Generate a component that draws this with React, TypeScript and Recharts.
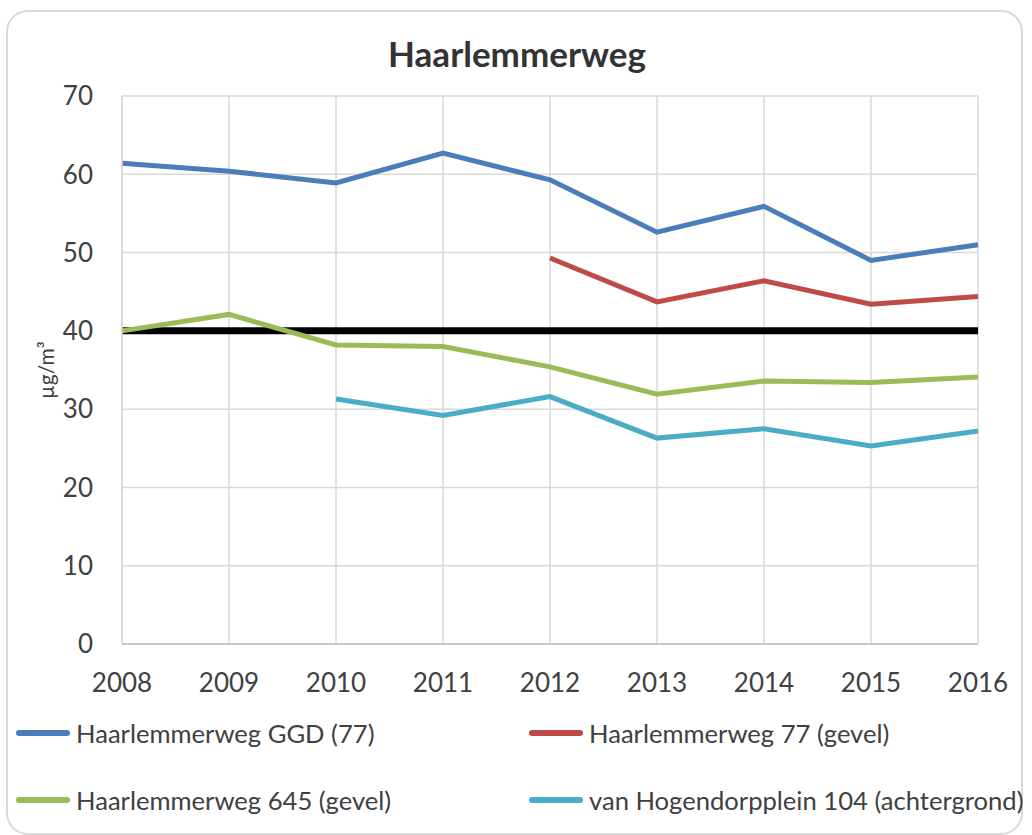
import React from "react";
import { LineChart, Line, XAxis, YAxis, CartesianGrid } from "recharts";

const years = ["2008", "2009", "2010", "2011", "2012", "2013", "2014", "2015", "2016"];
const ggd77 = [61.4, 60.4, 58.9, 62.7, 59.3, 52.6, 55.9, 49.0, 51.0];
const gevel77 = [null, null, null, null, 49.3, 43.7, 46.4, 43.4, 44.4];
const gevel645 = [40.0, 42.1, 38.2, 38.0, 35.4, 31.9, 33.6, 33.4, 34.1];
const hogendorp = [null, null, 31.3, 29.2, 31.6, 26.3, 27.5, 25.3, 27.2];
const limitValue = [40, 40, 40, 40, 40, 40, 40, 40, 40];
const yTicks = [0, 10, 20, 30, 40, 50, 60, 70];

const seriesNames = [
  "Haarlemmerweg GGD (77)",
  "Haarlemmerweg 77 (gevel)",
  "Haarlemmerweg 645 (gevel)",
  "van Hogendorpplein 104 (achtergrond)",
];
const seriesKeys = ["ggd77", "gevel77", "gevel645", "hogendorp"];
const seriesColors = ["#4A7EBB", "#BE4B48", "#9BBB59", "#4BACC6"];

const data = years.map((y, i) => ({
  year: y,
  ggd77: ggd77[i],
  gevel77: gevel77[i],
  gevel645: gevel645[i],
  hogendorp: hogendorp[i],
  limit: limitValue[i],
}));

const FONT = "Lato, 'Open Sans', sans-serif";
const TEXT = "#404040";

const legendPos = [
  { left: 16, top: 733 },
  { left: 529, top: 733 },
  { left: 16, top: 800 },
  { left: 529, top: 800 },
];

export default function App() {
  return (
    <div style={{ position: "absolute", left: 0, top: 0, width: 1032, height: 835, background: "#fff", fontFamily: FONT }}>
      <div
        style={{
          position: "absolute",
          left: 6,
          top: 10,
          width: 1013,
          height: 821,
          border: "2px solid #d9d9d9",
          borderRadius: 22,
        }}
      />
      <div
        style={{
          position: "absolute",
          left: 0,
          width: 1034,
          top: 33,
          textAlign: "center",
          fontSize: 35,
          fontWeight: 700,
          color: "#333",
          lineHeight: "40px",
        }}
      >
        Haarlemmerweg
      </div>
      <div style={{ position: "absolute", left: 0, top: 0 }}>
        <LineChart width={1032} height={835} data={data} margin={{ top: 96, right: 54, bottom: 151, left: 0 }}>
          <CartesianGrid stroke="#d9d9d9" strokeWidth={1.5} vertical={true} horizontal={true} />
          <XAxis
            dataKey="year"
            height={40}
            tickLine={false}
            tickSize={0}
            tickMargin={30}
            axisLine={{ stroke: "#bfbfbf", strokeWidth: 1.5 }}
            tick={{ fill: TEXT, fontSize: 26, fontFamily: FONT }}
            interval={0}
          />
          <YAxis
            width={122}
            domain={[0, 70]}
            ticks={yTicks}
            tickLine={false}
            tickSize={0}
            tickMargin={29}
            axisLine={{ stroke: "#d9d9d9", strokeWidth: 1.5 }}
            tick={{ fill: TEXT, fontSize: 26, fontFamily: FONT }}
            label={{
              content: (props: any) => {
                const vb = props.viewBox || {};
                const cx = 45;
                const cy = (vb.y ?? 96) + (vb.height ?? 548) / 2;
                return (
                  <text
                    x={cx}
                    y={cy}
                    transform={`rotate(-90 ${cx} ${cy})`}
                    textAnchor="middle"
                    dominantBaseline="central"
                    fill={TEXT}
                    fontSize={21}
                    fontFamily={FONT}
                  >
                    µg/m³
                  </text>
                );
              },
            }}
          />
          <Line
            dataKey="limit"
            stroke="#000"
            strokeWidth={7}
            dot={false}
            activeDot={false}
            isAnimationActive={false}
            legendType="none"
          />
          {seriesKeys.map((k, i) => (
            <Line
              key={k}
              dataKey={k}
              name={seriesNames[i]}
              stroke={seriesColors[i]}
              strokeWidth={5}
              dot={false}
              activeDot={false}
              connectNulls={false}
              isAnimationActive={false}
            />
          ))}
        </LineChart>
      </div>
      {seriesNames.map((n, i) => (
        <div
          key={n}
          style={{
            position: "absolute",
            left: legendPos[i].left,
            top: legendPos[i].top - 16,
            height: 32,
            display: "flex",
            alignItems: "center",
            whiteSpace: "nowrap",
          }}
        >
          <div style={{ width: 54, height: 6, borderRadius: 3, background: seriesColors[i], marginRight: 6 }} />
          <span style={{ fontSize: 25.6, color: TEXT, fontFamily: FONT }}>{n}</span>
        </div>
      ))}
    </div>
  );
}
